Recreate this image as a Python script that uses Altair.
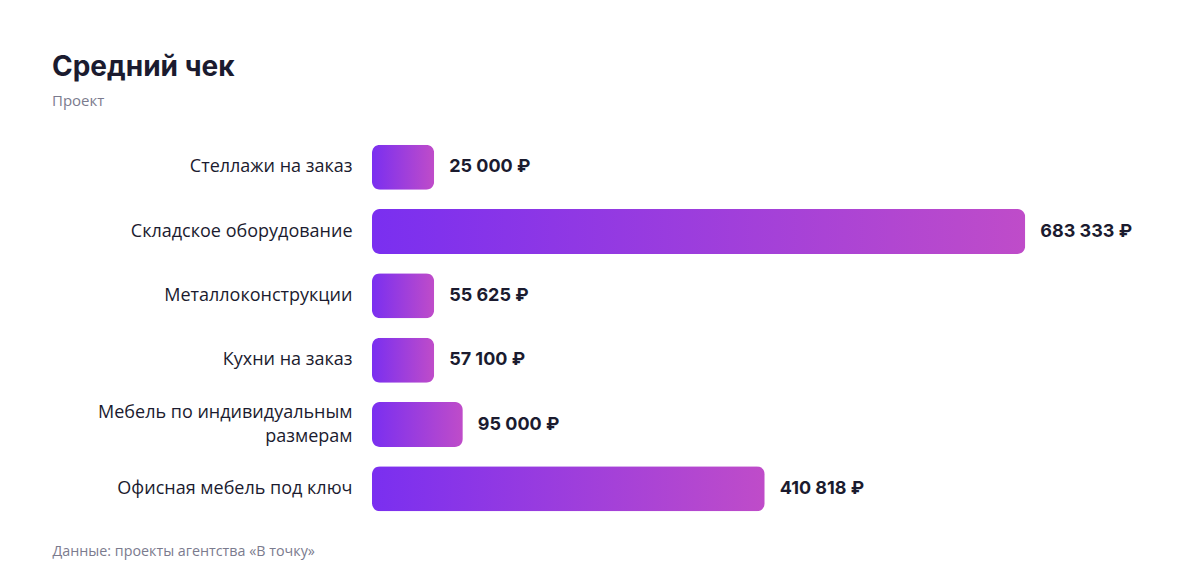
import altair as alt
import pandas as pd

categories = [
    "Стеллажи на заказ",
    "Складское оборудование",
    "Металлоконструкции",
    "Кухни на заказ",
    "Мебель по индивидуальным|размерам",
    "Офисная мебель под ключ",
]
values = [25000, 683333, 55625, 57100, 95000, 410818]

text_dark = "#1b1b2f"
text_gray = "#7b7b8e"
label_font = "Open Sans"
grad = alt.Gradient(
    gradient="linear",
    stops=[alt.GradientStop(color="#7a2ff0", offset=0),
           alt.GradientStop(color="#bf4cc9", offset=1)],
    x1=0, x2=1, y1=0, y2=0,
)

df = pd.DataFrame({"category": categories, "value": values})

base = (
    alt.Chart(df)
    .transform_calculate(
        bar_value="max(datum.value, 65000)",   # short bars keep a minimum length
        label="replace(format(datum.value, ','), ',', ' ') + ' ₽'",
    )
    .encode(
        y=alt.Y("category:N", sort=categories,
                scale=alt.Scale(paddingInner=0.3, paddingOuter=0.15),
                axis=alt.Axis(title=None, ticks=False, domain=False, grid=False,
                              labelFontSize=18, labelColor=text_dark,
                              labelFont=label_font,
                              labelPadding=20, labelLimit=400, labelLineHeight=24,
                              labelOffset={"condition": {"test": "indexof(datum.value, '|') >= 0",
                                                         "value": -12},
                                           "value": 0},
                              labelExpr="split(datum.value, '|')")),
        x=alt.X("bar_value:Q",
                scale=alt.Scale(domain=[0, 749000], nice=False),
                axis=alt.Axis(labels=False, ticks=False, domain=False, grid=False,
                              title="Данные: проекты агентства «В точку»",
                              titleFont=label_font, titleFontSize=14.3,
                              titleFontWeight="normal",
                              titleColor=text_gray, titleAnchor="start", titleAlign="left",
                              titleBaseline="alphabetic", titleX=-320, titleY=34)),
    )
)

bars = base.mark_bar(color=grad, cornerRadius=8)

labels = base.mark_text(
    align="left", baseline="middle", dx=15, fontSize=18, fontWeight="bold",
    font="Inter", color=text_dark,
).encode(text="label:N")

chart = (
    (bars + labels)
    .properties(
        width=716,
        height=386,
        autosize=alt.AutoSizeParams(type="none"),
        padding={"left": 364, "top": 127, "right": 104, "bottom": 55},
        title=alt.TitleParams(
            text="Средний чек", subtitle="Проект",
            anchor="start", frame="group", dx=-320, offset=26,
            font="Inter", fontSize=28, fontWeight="bold", color=text_dark,
            subtitleFont=label_font, subtitleFontSize=15, subtitleColor=text_gray,
            subtitlePadding=12,
        ),
    )
    .configure_view(stroke=None)
)

chart.save("out.html", embed_options={"renderer": "svg", "actions": False})
